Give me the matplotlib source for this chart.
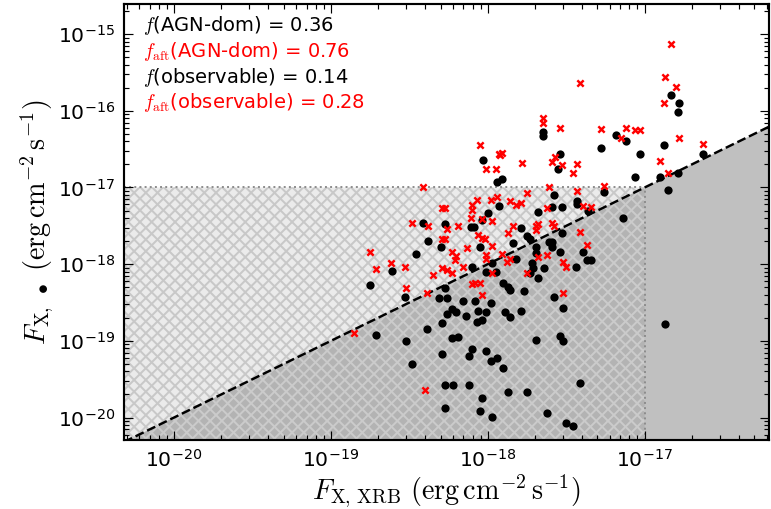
import numpy as np
import matplotlib
matplotlib.use("Agg")
import matplotlib.pyplot as plt
from matplotlib.collections import LineCollection
from matplotlib.transforms import IdentityTransform
from matplotlib.ticker import FixedLocator

plt.rcParams["mathtext.fontset"] = "cm"

# log10 fluxes (black = before, red = "aft")
blk_logx = [-18.75, -18.61, -18.71,
            -18.03, -17.94, -17.93, -18.41, -18.27, -18.11, -18.09, -18.04, -18.00, -18.38, -18.30, -18.05,
            -17.65, -17.65, -17.54, -17.55, -17.28, -17.91, -17.58, -17.43, -17.43, -17.53, -17.59, -17.68,
            -17.36, -17.79, -17.84, -17.75, -17.73, -17.61, -17.59, -17.59, -17.69, -17.53,
            -16.83, -16.78, -16.79, -17.18, -17.12, -16.88, -17.03, -16.63, -17.06, -16.90, -16.79, -16.85,
            -17.26, -17.14,
            -18.46, -18.53, -18.52, -18.48, -18.39, -18.31, -18.26, -18.27, -18.29, -18.29, -18.26, -18.23,
            -18.20, -18.23, -18.19, -18.27, -18.22, -18.27, -18.16, -18.14, -18.12, -18.12, -18.10, -18.08,
            -18.06, -18.01, -18.07, -18.04, -18.04, -18.05, -18.01, -18.10, -18.01, -17.97, -17.98, -17.97,
            -17.95, -17.90, -17.87, -17.86, -17.89, -17.86, -17.98, -17.94, -17.90, -17.87, -17.79, -17.77,
            -17.75, -17.69, -17.68, -17.72, -17.71, -17.73, -17.64, -17.62, -17.58, -17.54, -17.52, -17.52,
            -17.54, -17.44, -17.39, -17.37, -17.34, -17.41, -17.50, -17.46, -17.69, -17.82, -16.87]
blk_logy = [-18.27, -18.09, -18.92,
            -16.64, -16.93, -17.24, -17.46, -17.48, -17.51, -17.51, -17.42, -17.33, -17.70, -17.78, -17.78,
            -16.28, -16.33, -16.56, -16.76, -16.49, -16.89, -17.10, -17.18, -17.22, -17.25, -17.25, -17.32,
            -17.31, -17.53, -17.72, -17.63, -17.67, -17.71, -17.78, -17.71, -17.78, -17.59,
            -15.79, -15.90, -16.02, -16.32, -16.39, -16.45, -16.56, -16.56, -16.86, -16.86, -16.81, -17.03,
            -17.06, -17.40,
            -17.87, -18.43, -19.00, -19.30, -18.84, -18.44, -18.44, -18.31, -18.77, -19.17, -18.65, -18.58,
            -18.62, -18.96, -18.95, -19.57, -19.57, -19.87, -18.48, -18.67, -19.57, -19.20, -19.11, -18.48,
            -18.61, -18.62, -18.75, -18.73, -19.74, -19.91, -19.13, -18.04, -18.10, -17.98, -18.51, -19.99,
            -18.10, -18.25, -18.30, -18.34, -18.62, -18.69, -19.26, -19.22, -19.35, -19.67, -18.61, -18.35,
            -19.67, -18.99, -18.18, -17.98, -18.05, -18.11, -18.05, -19.94, -18.43, -18.94, -19.00, -18.57,
            -17.84, -18.04, -17.84, -17.95, -17.95, -19.55, -20.07, -20.11, -17.85, -17.93, -18.78]

red_logx = [-18.75, -18.71, -18.62, -18.85,
            -18.05, -17.93, -18.01, -17.95, -18.41, -18.07, -17.98, -17.94, -18.10, -18.29, -18.27, -18.10,
            -18.11, -18.04, -17.97, -18.48, -18.38, -18.19, -18.26, -18.06, -18.04, -18.29, -18.27, -18.02,
            -17.97, -18.13,
            -17.65, -17.65, -17.54, -17.92, -17.91, -17.78, -17.59, -17.57, -17.53, -17.43, -17.46, -17.75,
            -17.61, -17.43, -17.86, -17.82, -17.79, -17.62, -17.39, -17.34, -17.84, -17.87, -17.69, -17.68,
            -17.69, -17.59, -17.58, -17.41, -17.37,
            -16.83, -17.41, -16.87, -16.80, -16.88, -17.28, -17.12, -17.06, -17.03, -17.15, -16.78, -16.63,
            -16.90, -16.85, -17.26,
            -18.40, -17.52, -18.04, -18.10, -18.08, -18.05, -18.52, -18.39, -18.53, -18.35, -18.29, -18.26,
            -18.23, -18.16, -18.23, -18.20, -18.21, -17.97, -17.91, -17.86, -17.88, -17.75, -17.68, -17.62,
            -17.52, -17.50, -18.01, -18.01]
red_logy = [-17.84, -18.06, -17.98, -18.90,
            -16.45, -16.56, -16.76, -16.76, -16.99, -17.16, -17.16, -17.12, -17.23, -17.27, -17.27, -17.29,
            -17.40, -17.41, -17.44, -17.46, -17.50, -17.50, -17.54, -17.62, -17.66, -17.67, -17.67, -17.67,
            -17.76, -17.79,
            -16.09, -16.16, -16.22, -16.58, -16.55, -16.68, -16.67, -16.60, -16.71, -16.69, -16.81, -17.07,
            -16.99, -17.05, -17.18, -17.23, -17.20, -17.27, -17.24, -17.25, -17.50, -17.59, -17.50, -17.48,
            -17.55, -17.46, -17.50, -17.58, -17.75,
            -15.13, -15.64, -15.56, -15.69, -15.90, -16.24, -16.22, -16.25, -16.25, -16.35, -16.35, -16.43,
            -16.65, -16.81, -16.98,
            -19.64, -18.38, -18.40, -18.26, -18.25, -18.25, -18.31, -18.38, -18.04, -18.14, -18.05, -18.08,
            -18.11, -18.04, -17.84, -17.89, -17.95, -18.11, -17.87, -17.93, -17.97, -18.11, -17.91, -17.88,
            -17.97, -18.04, -17.88, -17.93]

labels = [r"$f$(AGN-dom) = 0.36", r"$f_{\rm aft}$(AGN-dom) = 0.76",
          r"$f$(observable) = 0.14", r"$f_{\rm aft}$(observable) = 0.28"]
label_colors = ["black", "red", "black", "red"]

flux_lim = 1e-17
xlim = (4.8e-21, 6.2e-17)
ylim = (5.1e-21, 2.47e-15)

fig = plt.figure(figsize=(771 / 70, 509 / 70), dpi=70)
ax = fig.add_axes([0.1608, 0.1356, 0.8366, 0.8566])
ax.set_xscale("log")
ax.set_yscale("log")
ax.set_xlim(xlim)
ax.set_ylim(ylim)


def crosshatch(poly, color, step=11.7, lw=2.0):
    # diagonal cross-hatch in pixel space, clipped to a filled region
    bb = ax.bbox
    segs = []
    span = bb.width + bb.height
    for c in np.arange(bb.x0 - bb.y1 - step, bb.x1 - bb.y0 + step, step):
        segs.append([(bb.x0, bb.x0 - c), (bb.x1, bb.x1 - c)])
    for c in np.arange(bb.x0 + bb.y0 - step, bb.x1 + bb.y1 + step, step):
        segs.append([(bb.x0, c - bb.x0), (bb.x1, c - bb.x1)])
    lc = LineCollection(segs, colors=color, linewidths=lw * 72 / 70,
                        transform=IdentityTransform(), zorder=0.6)
    ax.add_collection(lc, autolim=False)
    lc.set_clip_path(poly.get_paths()[0], poly.get_transform())


# shaded regions
xs = np.logspace(np.log10(xlim[0]), np.log10(xlim[1]), 400)
ax.fill_between(xs, ylim[0], xs, facecolor="#c0c0c0", linewidth=0, zorder=0)
xb = np.logspace(np.log10(xlim[0]), np.log10(flux_lim), 400)
upper = ax.fill_between(xb, np.maximum(xb, ylim[0]), flux_lim, facecolor="#ebebeb",
                        linewidth=0, zorder=0.5)
lower = ax.fill_between(xb, ylim[0], np.maximum(xb, ylim[0]), facecolor="#b3b3b3",
                        linewidth=0, zorder=0.5)
crosshatch(upper, "#c8c8c8")
crosshatch(lower, "#cbcbcb")
ax.plot([xlim[0], flux_lim], [flux_lim, flux_lim], ls=":", color="#8c8c8c", lw=2, zorder=1)
ax.plot([flux_lim, flux_lim], [ylim[0], flux_lim], ls=":", color="#8c8c8c", lw=2, zorder=1)

# 1:1 line
ax.plot(xlim, xlim, ls="--", color="black", lw=2.5, zorder=2)

ax.scatter(10 ** np.array(blk_logx), 10 ** np.array(blk_logy), s=72, color="black",
           linewidths=0, zorder=3)
ax.scatter(10 ** np.array(red_logx), 10 ** np.array(red_logy), s=42, marker="x",
           color="red", linewidths=2.5, zorder=4)

for i, (txt, c) in enumerate(zip(labels, label_colors)):
    ax.text(0.029, 0.95 - i * 0.059, txt, color=c, fontsize=20,
            transform=ax.transAxes, va="center", ha="left")

ax.set_xlabel(r"$F_{\rm X,\,XRB}\ (\rm erg\,cm^{-2}\,s^{-1})$", fontsize=29, labelpad=2)
ax.set_ylabel(r"$F_{\rm X,\ \bullet}\ (\rm erg\,cm^{-2}\,s^{-1})$", fontsize=29, labelpad=2)

ax.xaxis.set_major_locator(FixedLocator([1e-20, 1e-19, 1e-18, 1e-17]))
ax.yaxis.set_major_locator(FixedLocator([1e-20, 1e-19, 1e-18, 1e-17, 1e-16, 1e-15]))
ax.tick_params(which="both", direction="in", top=True, right=True, labelsize=21, width=1.2)
ax.tick_params(which="major", length=9, pad=9)
ax.tick_params(which="minor", length=5)
for sp in ax.spines.values():
    sp.set_linewidth(2.2)

fig.savefig("out.png", dpi=70)
